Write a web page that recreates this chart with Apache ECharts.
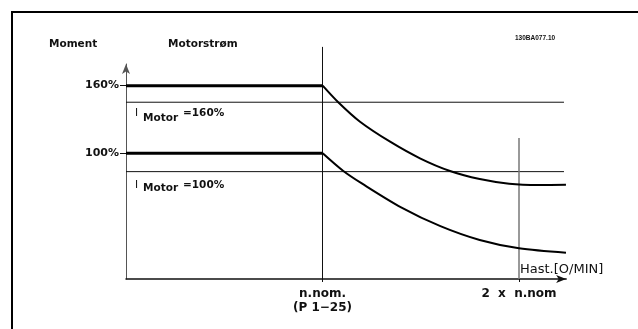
<!DOCTYPE html>
<html>
<head>
<meta charset="utf-8">
<script src="https://cdn.jsdelivr.net/npm/echarts@6/dist/echarts.min.js"></script>
<style>
    html, body { margin: 0; padding: 0; background: #fff; }
    #main { width: 638px; height: 329px; }
</style>
</head>
<body>
<div id="main"></div>
<script>
// x in units of n.nom, y in schematic torque units (100 = 100% line)
const xTickValues = [1, 2]
const xTickLabels = ['n.nom.\n(P 1\u221225)', '2  x  n.nom']
const yTickValues = [100, 153.8]
const yTickLabels = ['100%', '160%']

const flat160 = [[0, 153.8], [1.001, 153.8]]
const flat100 = [[0, 100], [1.001, 100]]
const curve160 = [[1.001, 153.8], [1.08, 140.6], [1.191, 125.1], [1.344, 109.2], [1.496, 96.0],
    [1.649, 85.9], [1.8, 79.5], [1.95, 75.8], [2.1, 74.8], [2.239, 75.0]]
const curve100 = [[1.001, 100], [1.106, 85.9], [1.2, 76], [1.4, 57], [1.6, 42],
    [1.8, 31], [2.0, 24.4], [2.239, 20.9]]
const limit160 = [[0, 140.6], [2.229, 140.6]]
const limit100 = [[0, 85.4], [2.229, 85.4]]
const nomLine = [[1, 0], [1, 184.6]]
const twoNomLine = [[2, 0], [2, 112.2]]

const font = 'DejaVu Sans'
let chart = echarts.init(document.getElementById('main'))

function line(data, width, color, smooth) {
    return {
        type: 'line',
        data: data,
        symbol: 'none',
        smooth: smooth || false,
        clip: false,
        silent: true,
        lineStyle: { color: color, width: width }
    }
}

function txt(x, y, text, size, weight, family) {
    return {
        type: 'text', x: x, y: y,
        style: {
            text: text, fill: '#111',
            font: (weight || 'bold') + ' ' + size + 'px "' + (family || font) + '"',
            verticalAlign: 'middle'
        }
    }
}

let option = {
    animation: false,
    grid: { left: 126, top: 64, width: 440.16, height: 215 },
    xAxis: {
        type: 'value', min: 0, max: 2.24,
        splitLine: { show: false },
        axisLine: {
            lineStyle: { color: '#111', width: 1.5 },
            symbol: ['none', 'arrow'], symbolSize: [6, 10]
        },
        axisTick: { customValues: xTickValues, length: 3, lineStyle: { color: '#111' } },
        axisLabel: {
            customValues: xTickValues,
            formatter: v => xTickLabels[xTickValues.indexOf(v)],
            color: '#111', fontFamily: font, fontWeight: 'bold', fontSize: 12,
            lineHeight: 14, margin: 8
        }
    },
    yAxis: {
        type: 'value', min: 0, max: 171,
        splitLine: { show: false },
        axisLine: {
            show: true,
            lineStyle: { color: '#555', width: 1 },
            symbol: ['none', 'arrow'], symbolSize: [6, 10]
        },
        axisTick: { show: true, customValues: yTickValues, length: 6, lineStyle: { color: '#111' } },
        axisLabel: {
            customValues: yTickValues,
            formatter: v => yTickLabels[yTickValues.indexOf(v)],
            color: '#111', fontFamily: font, fontWeight: 'bold', fontSize: 11, margin: 7
        }
    },
    graphic: [
        { type: 'line', shape: { x1: 11, y1: 12, x2: 638, y2: 12 }, style: { stroke: '#000', lineWidth: 2 } },
        { type: 'line', shape: { x1: 12, y1: 11, x2: 12, y2: 329 }, style: { stroke: '#000', lineWidth: 2 } },
        txt(49, 44, 'Moment', 10.5),
        txt(168, 44, 'Motorstrøm', 10.5),
        txt(515, 38, '130BA077.10', 6.5, 'bold', 'Liberation Sans'),
        txt(135, 113, 'I', 10.5, 'normal'),
        txt(143, 118.5, 'Motor', 10.5),
        txt(183, 113.5, '=160%', 10.5),
        txt(135, 185, 'I', 10.5, 'normal'),
        txt(143, 188.5, 'Motor', 10.5),
        txt(183, 185.5, '=100%', 10.5),
        txt(520, 270, 'Hast.[O/MIN]', 13, 'normal')
    ],
    series: [
        line(limit160, 1, '#111'),
        line(limit100, 1, '#111'),
        line(nomLine, 1, '#111'),
        line(twoNomLine, 1.5, '#777'),
        line(flat160, 3, '#000'),
        line(flat100, 3, '#000'),
        line(curve160, 2, '#000', 0.3),
        line(curve100, 2, '#000', 0.3)
    ]
}
chart.setOption(option)
</script>
</body>
</html>
